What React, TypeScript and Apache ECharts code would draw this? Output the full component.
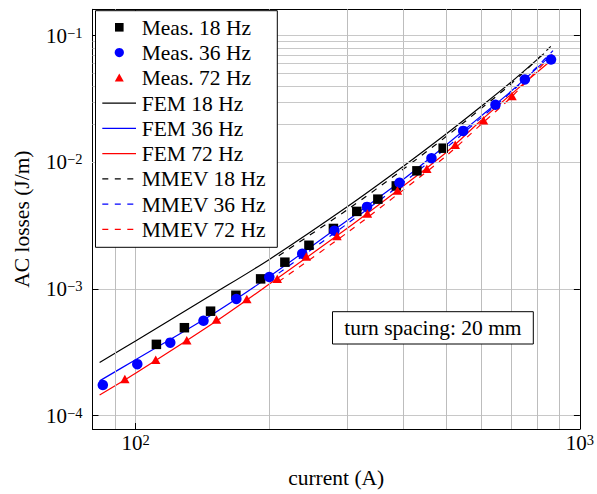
import React, { useEffect, useRef } from 'react';
import * as echarts from 'echarts';

const FONT = '"Liberation Serif", "Times New Roman", serif';

const seriesNames = [
  'Meas. 18 Hz', 'Meas. 36 Hz', 'Meas. 72 Hz',
  'FEM 18 Hz', 'FEM 36 Hz', 'FEM 72 Hz',
  'MMEV 18 Hz', 'MMEV 36 Hz', 'MMEV 72 Hz',
];
const seriesColors = ['#000000', '#0000ff', '#ff0000'];

// Measurements
const meas18I = [111.4, 128.8, 147.5, 168.2, 191.2, 216.8, 245.6, 278.8, 314.7, 351, 386.2, 429.8, 492.4];
const meas18L = [3.65e-4, 4.94e-4, 6.67e-4, 8.91e-4, 1.2e-3, 1.625e-3, 2.21e-3, 3.0e-3, 4.09e-3, 5.11e-3, 6.5e-3, 8.55e-3, 1.29e-2];

const meas36I = [84.4, 100.9, 119.7, 142.2, 168.6, 200, 237.2, 280.2, 331.8, 392.8, 463.4, 546.3, 645.7, 752, 861];
const meas36L = [1.743e-4, 2.547e-4, 3.767e-4, 5.6e-4, 8.33e-4, 1.24e-3, 1.897e-3, 2.88e-3, 4.44e-3, 6.88e-3, 1.075e-2, 1.766e-2, 2.84e-2, 4.5e-2, 6.46e-2];

const meas72I = [94.6, 111, 130.4, 152.1, 178, 208.4, 242.2, 284, 332.5, 388.5, 452.4, 524.2, 606.8, 703.5];
const meas72L = [1.943e-4, 2.757e-4, 3.93e-4, 5.735e-4, 8.33e-4, 1.202e-3, 1.8e-3, 2.61e-3, 3.93e-3, 5.99e-3, 8.86e-3, 1.373e-2, 2.14e-2, 3.33e-2];

// FEM simulations
const fem18I = [83, 100, 150, 200, 300, 400, 500, 600, 700, 830];
const fem18L = [2.63e-4, 3.88e-4, 9.19e-4, 1.709e-3, 4.47e-3, 9.25e-3, 1.667e-2, 2.76e-2, 4.28e-2, 7.19e-2];
const fem36I = [83, 100, 150, 200, 300, 400, 500, 600, 700, 850];
const fem36L = [1.88e-4, 2.762e-4, 6.4e-4, 1.251e-3, 3.48e-3, 7.29e-3, 1.367e-2, 2.32e-2, 3.63e-2, 6.69e-2];
const fem72I = [83, 100, 150, 200, 300, 400, 500, 600, 700, 860];
const fem72L = [1.453e-4, 2.158e-4, 5.4e-4, 1.092e-3, 3.02e-3, 6.46e-3, 1.193e-2, 2.145e-2, 3.43e-2, 6.33e-2];

// MMEV model
const mmevI = [210, 300, 400, 500, 600, 700, 870];
const mmev18L = [1.827e-3, 4.23e-3, 8.79e-3, 1.593e-2, 2.66e-2, 4.15e-2, 8.53e-2];
const mmev36L = [1.332e-3, 3.28e-3, 6.88e-3, 1.295e-2, 2.25e-2, 3.56e-2, 7.59e-2];
const mmev72L = [1.143e-3, 2.79e-3, 6.02e-3, 1.121e-2, 1.996e-2, 3.25e-2, 7.19e-2];

// Axes
const xRange = [80, 1000];
const yRange = [7.84e-5, 0.161];
const xMinorGrid = [90, 200, 300, 400, 500, 600, 700, 800, 900];
const yMinorGrid = [
  8e-5, 9e-5,
  2e-4, 3e-4, 4e-4, 5e-4, 6e-4, 7e-4, 8e-4, 9e-4,
  2e-3, 3e-3, 4e-3, 5e-3, 6e-3, 7e-3, 8e-3, 9e-3,
  2e-2, 3e-2, 4e-2, 5e-2, 6e-2, 7e-2, 8e-2, 9e-2,
];
const xTitle = 'current (A)';
const yTitle = 'AC losses (J/m)';
const annotation = 'turn spacing: 20 mm';

const zip = (a: number[], b: number[]) => a.map((v, i) => [v, b[i]]);

const powLabel = (v: number) => {
  const l = Math.log10(v);
  const e = Math.round(l);
  if (Math.abs(l - e) > 0.01) return '';
  return `{b|10}{s|${e < 0 ? '\u2212' : ''}${Math.abs(e)}}`;
};

const labelRich = {
  b: { fontFamily: FONT, fontSize: 21, color: '#000', lineHeight: 21, verticalAlign: 'bottom' },
  s: { fontFamily: FONT, fontSize: 14.5, color: '#000', lineHeight: 14, verticalAlign: 'top', padding: [0, 0, 13, 0] },
};

export default function App() {
  const ref = useRef<HTMLDivElement>(null);
  useEffect(() => {
    if (!ref.current) return;
    const chart = echarts.init(ref.current, undefined, { renderer: 'svg' });

    const gridL = 92.5, gridT = 9.3, gridW = 492, gridH = 422.7;

    const axisLine = { show: true, lineStyle: { color: '#000', width: 1 } };
    const tick = { show: true, inside: true, length: 6, lineStyle: { color: '#000', width: 1 } };

    const lineSeries = (name: string, xs: number[], ys: number[], color: string, dashed: boolean) => ({
      name,
      type: 'line',
      data: zip(xs, ys),
      showSymbol: false,
      symbol: 'none',
      smooth: 0.3,
      z: 3,
      lineStyle: { color, width: 1.2, type: dashed ? [6, 6.5] : 'solid', opacity: 1 },
    });

    // legend drawn as graphic
    const Z = 100;
    const legX = 95.5, legY = 10.7, legW = 181.8, legH = 236.6;
    const row0 = 27.3, rowGap = 25.25;
    const legendChildren: any[] = [
      { type: 'rect', z: Z, shape: { x: legX, y: legY, width: legW, height: legH }, style: { fill: '#fff', stroke: '#000', lineWidth: 1 } },
    ];
    seriesNames.forEach((name, i) => {
      const cy = row0 + rowGap * i;
      const color = seriesColors[i % 3];
      const cx = 119.3;
      if (i === 0) {
        legendChildren.push({ type: 'rect', z: Z + 1, shape: { x: cx - 4.3, y: cy - 4.3, width: 8.6, height: 8.6 }, style: { fill: color } });
      } else if (i === 1) {
        legendChildren.push({ type: 'circle', z: Z + 1, shape: { cx, cy, r: 4.6 }, style: { fill: color } });
      } else if (i === 2) {
        legendChildren.push({ type: 'polygon', z: Z + 1, shape: { points: [[cx, cy - 4.3], [cx + 4.5, cy + 3.6], [cx - 4.5, cy + 3.6]] }, style: { fill: color } });
      } else {
        const st: any = { stroke: color, lineWidth: 1.2, fill: 'none' };
        if (i >= 6) st.lineDash = [6, 6.5];
        legendChildren.push({
          type: 'line', z: Z + 1,
          shape: { x1: 102.3, y1: cy, x2: 136, y2: cy },
          style: st,
        });
      }
      legendChildren.push({
        type: 'text', z: Z + 1,
        style: { x: 141.7, y: cy + 0.5, text: name, font: `21.5px ${FONT}`, fill: '#000', verticalAlign: 'middle', align: 'left' },
      });
    });

    const option: any = {
      animation: false,
      backgroundColor: '#fff',
      grid: { left: gridL, top: gridT, width: gridW, height: gridH, containLabel: false },
      xAxis: [
        {
          type: 'log', logBase: 10, min: xRange[0], max: xRange[1], position: 'bottom',
          axisLine, axisTick: tick,
          axisLabel: { formatter: powLabel, rich: labelRich, margin: 3, showMinLabel: false },
          splitLine: { show: true, lineStyle: { color: '#bdbdbd', width: 1 } },
          name: xTitle, nameLocation: 'middle', nameGap: 38,
          nameTextStyle: { fontFamily: FONT, fontSize: 21.5, color: '#000' },
        },
        {
          type: 'log', logBase: 10, min: xRange[0], max: xRange[1], position: 'top',
          axisLine, axisTick: tick, axisLabel: { show: false }, splitLine: { show: false },
        },
      ],
      yAxis: [
        {
          type: 'log', logBase: 10, min: yRange[0], max: yRange[1], position: 'left',
          axisLine, axisTick: tick,
          axisLabel: { formatter: powLabel, rich: labelRich, margin: 10 },
          splitLine: { show: true, lineStyle: { color: '#c8c8c8', width: 1.2 } },
          name: yTitle, nameLocation: 'middle', nameGap: 60, nameRotate: 90,
          nameTextStyle: { fontFamily: FONT, fontSize: 21.5, color: '#000' },
        },
        {
          type: 'log', logBase: 10, min: yRange[0], max: yRange[1], position: 'right',
          axisLine, axisTick: tick, axisLabel: { show: false }, splitLine: { show: false },
        },
      ],
      series: [
        {
          name: '__grid', type: 'line', data: [], z: 1, silent: true,
          markLine: {
            silent: true, symbol: ['none', 'none'], label: { show: false }, animation: false,
            data: [
              ...xMinorGrid.map((v) => ({ xAxis: v, lineStyle: { color: '#bdbdbd', width: 1, type: 'solid' } })),
              ...yMinorGrid.map((v) => ({ yAxis: v, lineStyle: { color: '#c8c8c8', width: 1.2, type: 'solid' } })),
            ],
          },
        },
        lineSeries(seriesNames[3], fem18I, fem18L, seriesColors[0], false),
        lineSeries(seriesNames[4], fem36I, fem36L, seriesColors[1], false),
        lineSeries(seriesNames[5], fem72I, fem72L, seriesColors[2], false),
        lineSeries(seriesNames[6], mmevI, mmev18L, seriesColors[0], true),
        lineSeries(seriesNames[7], mmevI, mmev36L, seriesColors[1], true),
        lineSeries(seriesNames[8], mmevI, mmev72L, seriesColors[2], true),
        { name: seriesNames[0], type: 'scatter', data: zip(meas18I, meas18L), symbol: 'rect', symbolSize: 9.5, itemStyle: { color: seriesColors[0], opacity: 1 }, z: 4 },
        { name: seriesNames[1], type: 'scatter', data: zip(meas36I, meas36L), symbol: 'circle', symbolSize: 10.5, itemStyle: { color: seriesColors[1], opacity: 1 }, z: 5 },
        { name: seriesNames[2], type: 'scatter', data: zip(meas72I, meas72L), symbol: 'triangle', symbolSize: [9.5, 8.5], itemStyle: { color: seriesColors[2], opacity: 1 }, z: 6 },
      ],
      graphic: [
        { type: 'group', z: Z, children: legendChildren },
        {
          type: 'group', z: Z,
          children: [
            { type: 'rect', z: Z, shape: { x: 332.5, y: 311.7, width: 200.8, height: 32.3 }, style: { fill: '#fff', stroke: '#000', lineWidth: 1 } },
            { type: 'text', z: Z + 1, style: { x: 432.9, y: 328.3, text: annotation, font: `21.5px ${FONT}`, fill: '#000', align: 'center', verticalAlign: 'middle' } },
          ],
        },
      ],
    };
    chart.setOption(option);
    return () => chart.dispose();
  }, []);

  return (
    <div
      ref={ref}
      style={{ position: 'absolute', left: 0, top: 0, width: 597, height: 494, background: '#fff' }}
    />
  );
}
